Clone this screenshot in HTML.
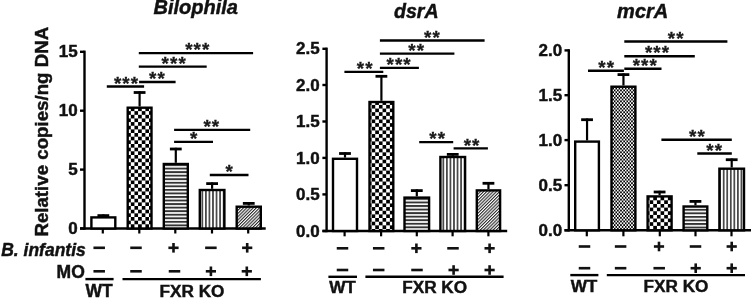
<!DOCTYPE html>
<html><head><meta charset="utf-8"><style>
html,body{margin:0;padding:0;background:#fff;}
svg{display:block;will-change:transform;}
text{font-family:"Liberation Sans",sans-serif;fill:#111;stroke:#111;stroke-width:0.45px;}
text.st{stroke:#1a1a1a;stroke-width:0.3px;fill:#1a1a1a;}

</style></head><body>
<svg width="751" height="298" viewBox="0 0 751 298">
<defs>
<pattern id="ck" patternUnits="userSpaceOnUse" width="7.3" height="7.3"><rect width="7.3" height="7.3" fill="#fff"/><rect width="3.65" height="3.65" fill="#000"/><rect x="3.65" y="3.65" width="3.65" height="3.65" fill="#000"/></pattern>
<pattern id="fck" patternUnits="userSpaceOnUse" x="612.35" y="124.09" width="3.14" height="3.64"><rect width="3.14" height="3.64" fill="#fff"/><rect width="1.57" height="1.82" fill="#000"/><rect x="1.57" y="1.82" width="1.57" height="1.82" fill="#000"/></pattern>
<pattern id="hl" patternUnits="userSpaceOnUse" width="10" height="3.5"><rect width="10" height="3.5" fill="#fff"/><rect y="0" width="10" height="1.9" fill="#222"/></pattern>
<pattern id="vl" patternUnits="userSpaceOnUse" width="3.5" height="10"><rect width="3.5" height="10" fill="#fff"/><rect x="0" width="1.7" height="10" fill="#222"/></pattern>
<pattern id="dg" patternUnits="userSpaceOnUse" width="2.26" height="3" patternTransform="rotate(45)"><rect width="2.26" height="3" fill="#fff"/><rect width="1.1" height="3" fill="#2a2a2a"/></pattern>
<pattern id="ck1" patternUnits="userSpaceOnUse" x="130.80" y="180.50" width="7.3" height="7.3"><rect width="7.3" height="7.3" fill="#fff"/><rect width="3.65" height="3.65" fill="#000"/><rect x="3.65" y="3.65" width="3.65" height="3.65" fill="#000"/></pattern>
<pattern id="hl1" patternUnits="userSpaceOnUse" y="164.08" width="10" height="3.55"><rect width="10" height="3.55" fill="#fff"/><rect width="10" height="1.9" fill="#333"/></pattern>
<pattern id="vl1" patternUnits="userSpaceOnUse" x="201.45" width="3.55" height="10"><rect width="3.55" height="10" fill="#fff"/><rect width="1.75" height="10" fill="#484848"/></pattern>
<pattern id="ck2" patternUnits="userSpaceOnUse" x="371.60" y="104.90" width="7.3" height="7.3"><rect width="7.3" height="7.3" fill="#fff"/><rect width="3.65" height="3.65" fill="#000"/><rect x="3.65" y="3.65" width="3.65" height="3.65" fill="#000"/></pattern>
<pattern id="hl2" patternUnits="userSpaceOnUse" y="197.97" width="10" height="3.55"><rect width="10" height="3.55" fill="#fff"/><rect width="10" height="1.9" fill="#333"/></pattern>
<pattern id="vl2" patternUnits="userSpaceOnUse" x="442.45" width="3.55" height="10"><rect width="3.55" height="10" fill="#fff"/><rect width="1.75" height="10" fill="#484848"/></pattern>
<pattern id="ck3" patternUnits="userSpaceOnUse" x="649.60" y="200.30" width="7.3" height="7.3"><rect width="7.3" height="7.3" fill="#fff"/><rect width="3.65" height="3.65" fill="#000"/><rect x="3.65" y="3.65" width="3.65" height="3.65" fill="#000"/></pattern>
<pattern id="hl3" patternUnits="userSpaceOnUse" y="205.28" width="10" height="3.55"><rect width="10" height="3.55" fill="#fff"/><rect width="10" height="1.9" fill="#333"/></pattern>
<pattern id="vl3" patternUnits="userSpaceOnUse" x="719.25" width="3.55" height="10"><rect width="3.55" height="10" fill="#fff"/><rect width="1.75" height="10" fill="#484848"/></pattern>
</defs>
<rect width="751" height="298" fill="#fff"/>
<text x="153.50" y="14.30" font-size="20" text-anchor="start" font-weight="bold" font-style="italic" >Bilophila</text>
<text transform="translate(48.3,236.6) rotate(-90)" font-size="18.7" font-weight="bold">Relative copies/ng DNA</text>
<line x1="84.50" y1="50.60" x2="84.50" y2="229.70" stroke="#000" stroke-width="2.4"/>
<line x1="80.00" y1="228.50" x2="265.70" y2="228.50" stroke="#000" stroke-width="2.4"/>
<line x1="80.00" y1="51.80" x2="84.50" y2="51.80" stroke="#000" stroke-width="2.4"/>
<text x="77.60" y="57.00" font-size="17" text-anchor="end" font-weight="bold" font-style="normal" >15</text>
<line x1="80.00" y1="110.70" x2="84.50" y2="110.70" stroke="#000" stroke-width="2.4"/>
<text x="77.60" y="115.90" font-size="17" text-anchor="end" font-weight="bold" font-style="normal" >10</text>
<line x1="80.00" y1="169.60" x2="84.50" y2="169.60" stroke="#000" stroke-width="2.4"/>
<text x="77.60" y="174.80" font-size="17" text-anchor="end" font-weight="bold" font-style="normal" >5</text>
<line x1="80.00" y1="228.50" x2="84.50" y2="228.50" stroke="#000" stroke-width="2.4"/>
<text x="77.60" y="233.70" font-size="17" text-anchor="end" font-weight="bold" font-style="normal" >0</text>
<line x1="102.80" y1="228.50" x2="102.80" y2="233.50" stroke="#000" stroke-width="2.2"/>
<line x1="139.30" y1="228.50" x2="139.30" y2="233.50" stroke="#000" stroke-width="2.2"/>
<line x1="175.30" y1="228.50" x2="175.30" y2="233.50" stroke="#000" stroke-width="2.2"/>
<line x1="212.00" y1="228.50" x2="212.00" y2="233.50" stroke="#000" stroke-width="2.2"/>
<line x1="248.20" y1="228.50" x2="248.20" y2="233.50" stroke="#000" stroke-width="2.2"/>
<line x1="103.35" y1="216.20" x2="103.35" y2="214.40" stroke="#000" stroke-width="2.2"/>
<line x1="97.45" y1="215.60" x2="109.25" y2="215.60" stroke="#000" stroke-width="2.8"/>
<rect x="91.40" y="217.40" width="23.90" height="11.10" fill="#fff" stroke="#000" stroke-width="2.4"/>
<line x1="139.60" y1="106.50" x2="139.60" y2="91.30" stroke="#000" stroke-width="2.2"/>
<line x1="133.70" y1="92.50" x2="145.50" y2="92.50" stroke="#000" stroke-width="2.8"/>
<rect x="127.70" y="107.70" width="23.80" height="120.80" fill="url(#ck1)" stroke="#000" stroke-width="2.4"/>
<line x1="175.80" y1="162.80" x2="175.80" y2="147.80" stroke="#000" stroke-width="2.2"/>
<line x1="169.90" y1="149.00" x2="181.70" y2="149.00" stroke="#000" stroke-width="2.8"/>
<rect x="163.80" y="164.00" width="24.00" height="64.50" fill="url(#hl1)" stroke="#000" stroke-width="2.4"/>
<line x1="212.10" y1="188.80" x2="212.10" y2="182.40" stroke="#000" stroke-width="2.2"/>
<line x1="206.20" y1="183.60" x2="218.00" y2="183.60" stroke="#000" stroke-width="2.8"/>
<rect x="199.80" y="190.00" width="24.60" height="38.50" fill="url(#vl1)" stroke="#000" stroke-width="2.4"/>
<line x1="248.75" y1="205.50" x2="248.75" y2="202.20" stroke="#000" stroke-width="2.2"/>
<line x1="242.85" y1="203.40" x2="254.65" y2="203.40" stroke="#000" stroke-width="2.8"/>
<rect x="236.70" y="206.70" width="24.10" height="21.80" fill="url(#dg)" stroke="#000" stroke-width="2.4"/>
<line x1="138.80" y1="53.10" x2="253.10" y2="53.10" stroke="#000" stroke-width="2.4"/>
<text x="197.75" y="56.34" font-size="18.8" text-anchor="middle" font-weight="bold" letter-spacing="1.1" class="st">***</text>
<line x1="138.80" y1="66.60" x2="206.70" y2="66.60" stroke="#000" stroke-width="2.4"/>
<text x="174.20" y="69.84" font-size="18.8" text-anchor="middle" font-weight="bold" letter-spacing="1.1" class="st">***</text>
<line x1="139.10" y1="82.00" x2="175.60" y2="82.00" stroke="#000" stroke-width="2.4"/>
<text x="157.50" y="85.24" font-size="18.8" text-anchor="middle" font-weight="bold" letter-spacing="1.1" class="st">**</text>
<line x1="106.80" y1="86.50" x2="144.10" y2="86.50" stroke="#000" stroke-width="2.4"/>
<text x="126.50" y="89.74" font-size="18.8" text-anchor="middle" font-weight="bold" letter-spacing="1.1" class="st">***</text>
<line x1="174.10" y1="129.90" x2="250.20" y2="129.90" stroke="#000" stroke-width="2.4"/>
<text x="211.85" y="133.14" font-size="18.8" text-anchor="middle" font-weight="bold" letter-spacing="1.1" class="st">**</text>
<line x1="174.10" y1="141.90" x2="213.00" y2="141.90" stroke="#000" stroke-width="2.4"/>
<text x="194.20" y="145.14" font-size="18.8" text-anchor="middle" font-weight="bold" letter-spacing="1.1" class="st">*</text>
<line x1="209.80" y1="175.00" x2="248.50" y2="175.00" stroke="#000" stroke-width="2.4"/>
<text x="229.80" y="178.24" font-size="18.8" text-anchor="middle" font-weight="bold" letter-spacing="1.1" class="st">*</text>
<text x="1.20" y="256.00" font-size="17.7" text-anchor="start" font-weight="bold" font-style="italic" textLength="84.6" lengthAdjust="spacingAndGlyphs">B. infantis</text>
<text x="84.80" y="277.60" font-size="17.5" text-anchor="end" font-weight="bold" font-style="normal" >MO</text>
<rect x="93.45" y="246.50" width="11.5" height="2.6" fill="#111"/>
<rect x="130.25" y="246.50" width="11.5" height="2.6" fill="#111"/>
<rect x="168.40" y="246.50" width="10.2" height="2.6" fill="#111"/>
<rect x="172.20" y="243.00" width="2.6" height="9.6" fill="#111"/>
<rect x="205.15" y="246.50" width="11.5" height="2.6" fill="#111"/>
<rect x="242.10" y="246.50" width="10.2" height="2.6" fill="#111"/>
<rect x="245.90" y="243.00" width="2.6" height="9.6" fill="#111"/>
<rect x="93.45" y="270.00" width="11.5" height="2.6" fill="#111"/>
<rect x="130.25" y="270.00" width="11.5" height="2.6" fill="#111"/>
<rect x="168.75" y="270.00" width="11.5" height="2.6" fill="#111"/>
<rect x="205.80" y="270.00" width="10.2" height="2.6" fill="#111"/>
<rect x="209.60" y="266.50" width="2.6" height="9.6" fill="#111"/>
<rect x="241.70" y="270.00" width="10.2" height="2.6" fill="#111"/>
<rect x="245.50" y="266.50" width="2.6" height="9.6" fill="#111"/>
<line x1="85.40" y1="279.10" x2="113.60" y2="279.10" stroke="#000" stroke-width="2.4"/>
<line x1="122.50" y1="279.10" x2="260.90" y2="279.10" stroke="#000" stroke-width="2.4"/>
<text x="99.00" y="297.20" font-size="17.5" text-anchor="middle" font-weight="bold" font-style="normal" >WT</text>
<text x="192.00" y="297.20" font-size="17.2" text-anchor="middle" font-weight="bold" font-style="normal" >FXR KO</text>
<text x="394.00" y="18.00" font-size="19.6" text-anchor="start" font-weight="bold" font-style="italic" >dsrA</text>
<line x1="326.60" y1="47.60" x2="326.60" y2="232.20" stroke="#000" stroke-width="2.4"/>
<line x1="322.40" y1="231.00" x2="507.20" y2="231.00" stroke="#000" stroke-width="2.4"/>
<line x1="322.40" y1="48.80" x2="326.60" y2="48.80" stroke="#000" stroke-width="2.4"/>
<text x="319.60" y="54.40" font-size="17" text-anchor="end" font-weight="bold" font-style="normal" >2.5</text>
<line x1="322.40" y1="85.00" x2="326.60" y2="85.00" stroke="#000" stroke-width="2.4"/>
<text x="319.60" y="90.60" font-size="17" text-anchor="end" font-weight="bold" font-style="normal" >2.0</text>
<line x1="322.40" y1="121.50" x2="326.60" y2="121.50" stroke="#000" stroke-width="2.4"/>
<text x="319.60" y="127.10" font-size="17" text-anchor="end" font-weight="bold" font-style="normal" >1.5</text>
<line x1="322.40" y1="157.90" x2="326.60" y2="157.90" stroke="#000" stroke-width="2.4"/>
<text x="319.60" y="163.50" font-size="17" text-anchor="end" font-weight="bold" font-style="normal" >1.0</text>
<line x1="322.40" y1="194.40" x2="326.60" y2="194.40" stroke="#000" stroke-width="2.4"/>
<text x="319.60" y="200.00" font-size="17" text-anchor="end" font-weight="bold" font-style="normal" >0.5</text>
<line x1="322.40" y1="231.00" x2="326.60" y2="231.00" stroke="#000" stroke-width="2.4"/>
<text x="319.60" y="236.60" font-size="17" text-anchor="end" font-weight="bold" font-style="normal" >0.0</text>
<line x1="344.60" y1="231.00" x2="344.60" y2="236.30" stroke="#000" stroke-width="2.2"/>
<line x1="381.10" y1="231.00" x2="381.10" y2="236.30" stroke="#000" stroke-width="2.2"/>
<line x1="416.80" y1="231.00" x2="416.80" y2="236.30" stroke="#000" stroke-width="2.2"/>
<line x1="452.60" y1="231.00" x2="452.60" y2="236.30" stroke="#000" stroke-width="2.2"/>
<line x1="488.40" y1="231.00" x2="488.40" y2="236.30" stroke="#000" stroke-width="2.2"/>
<line x1="345.00" y1="157.60" x2="345.00" y2="152.30" stroke="#000" stroke-width="2.2"/>
<line x1="339.10" y1="153.50" x2="350.90" y2="153.50" stroke="#000" stroke-width="2.8"/>
<rect x="333.00" y="158.80" width="24.00" height="72.20" fill="#fff" stroke="#000" stroke-width="2.4"/>
<line x1="381.40" y1="100.80" x2="381.40" y2="75.10" stroke="#000" stroke-width="2.2"/>
<line x1="375.50" y1="76.30" x2="387.30" y2="76.30" stroke="#000" stroke-width="2.8"/>
<rect x="369.50" y="102.00" width="23.80" height="129.00" fill="url(#ck2)" stroke="#000" stroke-width="2.4"/>
<line x1="416.80" y1="196.40" x2="416.80" y2="189.40" stroke="#000" stroke-width="2.2"/>
<line x1="410.90" y1="190.60" x2="422.70" y2="190.60" stroke="#000" stroke-width="2.8"/>
<rect x="404.50" y="197.60" width="24.60" height="33.40" fill="url(#hl2)" stroke="#000" stroke-width="2.4"/>
<line x1="452.75" y1="155.80" x2="452.75" y2="153.20" stroke="#000" stroke-width="2.2"/>
<line x1="446.85" y1="154.40" x2="458.65" y2="154.40" stroke="#000" stroke-width="2.8"/>
<rect x="440.40" y="157.00" width="24.70" height="74.00" fill="url(#vl2)" stroke="#000" stroke-width="2.4"/>
<line x1="488.45" y1="189.20" x2="488.45" y2="182.10" stroke="#000" stroke-width="2.2"/>
<line x1="482.55" y1="183.30" x2="494.35" y2="183.30" stroke="#000" stroke-width="2.8"/>
<rect x="476.80" y="190.40" width="23.30" height="40.60" fill="url(#dg)" stroke="#000" stroke-width="2.4"/>
<line x1="379.90" y1="40.50" x2="484.60" y2="40.50" stroke="#000" stroke-width="2.4"/>
<text x="432.45" y="43.74" font-size="18.8" text-anchor="middle" font-weight="bold" letter-spacing="1.1" class="st">**</text>
<line x1="379.90" y1="53.60" x2="454.40" y2="53.60" stroke="#000" stroke-width="2.4"/>
<text x="416.75" y="56.84" font-size="18.8" text-anchor="middle" font-weight="bold" letter-spacing="1.1" class="st">**</text>
<line x1="379.90" y1="67.90" x2="418.90" y2="67.90" stroke="#000" stroke-width="2.4"/>
<text x="399.10" y="71.14" font-size="18.8" text-anchor="middle" font-weight="bold" letter-spacing="1.1" class="st">***</text>
<line x1="344.40" y1="71.90" x2="383.30" y2="71.90" stroke="#000" stroke-width="2.4"/>
<text x="365.15" y="75.14" font-size="18.8" text-anchor="middle" font-weight="bold" letter-spacing="1.1" class="st">**</text>
<line x1="419.20" y1="142.10" x2="453.20" y2="142.10" stroke="#000" stroke-width="2.4"/>
<text x="437.70" y="145.34" font-size="18.8" text-anchor="middle" font-weight="bold" letter-spacing="1.1" class="st">**</text>
<line x1="453.60" y1="148.40" x2="487.90" y2="148.40" stroke="#000" stroke-width="2.4"/>
<text x="472.05" y="151.64" font-size="18.8" text-anchor="middle" font-weight="bold" letter-spacing="1.1" class="st">**</text>
<rect x="336.75" y="247.00" width="11.5" height="2.6" fill="#111"/>
<rect x="372.95" y="247.00" width="11.5" height="2.6" fill="#111"/>
<rect x="411.30" y="247.00" width="10.2" height="2.6" fill="#111"/>
<rect x="415.10" y="243.50" width="2.6" height="9.6" fill="#111"/>
<rect x="447.25" y="247.00" width="11.5" height="2.6" fill="#111"/>
<rect x="484.50" y="247.00" width="10.2" height="2.6" fill="#111"/>
<rect x="488.30" y="243.50" width="2.6" height="9.6" fill="#111"/>
<rect x="336.75" y="268.70" width="11.5" height="2.6" fill="#111"/>
<rect x="372.95" y="268.70" width="11.5" height="2.6" fill="#111"/>
<rect x="411.25" y="268.70" width="11.5" height="2.6" fill="#111"/>
<rect x="448.50" y="268.70" width="10.2" height="2.6" fill="#111"/>
<rect x="452.30" y="265.20" width="2.6" height="9.6" fill="#111"/>
<rect x="484.50" y="268.70" width="10.2" height="2.6" fill="#111"/>
<rect x="488.30" y="265.20" width="2.6" height="9.6" fill="#111"/>
<line x1="328.40" y1="276.80" x2="357.00" y2="276.80" stroke="#000" stroke-width="2.4"/>
<line x1="365.40" y1="276.80" x2="503.60" y2="276.80" stroke="#000" stroke-width="2.4"/>
<text x="342.50" y="292.80" font-size="17.2" text-anchor="middle" font-weight="bold" font-style="normal" >WT</text>
<text x="434.70" y="292.80" font-size="17.2" text-anchor="middle" font-weight="bold" font-style="normal" >FXR KO</text>
<text x="617.10" y="18.00" font-size="20" text-anchor="start" font-weight="bold" font-style="italic" >mcrA</text>
<line x1="568.80" y1="49.20" x2="568.80" y2="231.50" stroke="#000" stroke-width="2.4"/>
<line x1="564.50" y1="230.30" x2="751.00" y2="230.30" stroke="#000" stroke-width="2.4"/>
<line x1="564.50" y1="50.40" x2="568.80" y2="50.40" stroke="#000" stroke-width="2.4"/>
<text x="562.20" y="56.00" font-size="17" text-anchor="end" font-weight="bold" font-style="normal" >2.0</text>
<line x1="564.50" y1="95.20" x2="568.80" y2="95.20" stroke="#000" stroke-width="2.4"/>
<text x="562.20" y="100.80" font-size="17" text-anchor="end" font-weight="bold" font-style="normal" >1.5</text>
<line x1="564.50" y1="140.10" x2="568.80" y2="140.10" stroke="#000" stroke-width="2.4"/>
<text x="562.20" y="145.70" font-size="17" text-anchor="end" font-weight="bold" font-style="normal" >1.0</text>
<line x1="564.50" y1="185.20" x2="568.80" y2="185.20" stroke="#000" stroke-width="2.4"/>
<text x="562.20" y="190.80" font-size="17" text-anchor="end" font-weight="bold" font-style="normal" >0.5</text>
<line x1="564.50" y1="230.30" x2="568.80" y2="230.30" stroke="#000" stroke-width="2.4"/>
<text x="562.20" y="235.90" font-size="17" text-anchor="end" font-weight="bold" font-style="normal" >0.0</text>
<line x1="586.80" y1="230.30" x2="586.80" y2="236.30" stroke="#000" stroke-width="2.2"/>
<line x1="623.40" y1="230.30" x2="623.40" y2="236.30" stroke="#000" stroke-width="2.2"/>
<line x1="659.80" y1="230.30" x2="659.80" y2="236.30" stroke="#000" stroke-width="2.2"/>
<line x1="695.50" y1="230.30" x2="695.50" y2="236.30" stroke="#000" stroke-width="2.2"/>
<line x1="731.50" y1="230.30" x2="731.50" y2="236.30" stroke="#000" stroke-width="2.2"/>
<line x1="587.05" y1="140.40" x2="587.05" y2="118.50" stroke="#000" stroke-width="2.2"/>
<line x1="581.15" y1="119.70" x2="592.95" y2="119.70" stroke="#000" stroke-width="2.8"/>
<rect x="575.20" y="141.60" width="23.70" height="88.70" fill="#fff" stroke="#000" stroke-width="2.4"/>
<line x1="623.45" y1="85.50" x2="623.45" y2="73.40" stroke="#000" stroke-width="2.2"/>
<line x1="617.55" y1="74.60" x2="629.35" y2="74.60" stroke="#000" stroke-width="2.8"/>
<rect x="611.50" y="86.70" width="23.90" height="143.60" fill="url(#fck)" stroke="#000" stroke-width="2.4"/>
<line x1="659.60" y1="195.20" x2="659.60" y2="190.80" stroke="#000" stroke-width="2.2"/>
<line x1="653.70" y1="192.00" x2="665.50" y2="192.00" stroke="#000" stroke-width="2.8"/>
<rect x="647.60" y="196.40" width="24.00" height="33.90" fill="url(#ck3)" stroke="#000" stroke-width="2.4"/>
<line x1="695.45" y1="205.30" x2="695.45" y2="200.20" stroke="#000" stroke-width="2.2"/>
<line x1="689.55" y1="201.40" x2="701.35" y2="201.40" stroke="#000" stroke-width="2.8"/>
<rect x="683.60" y="206.50" width="23.70" height="23.80" fill="url(#hl3)" stroke="#000" stroke-width="2.4"/>
<line x1="731.70" y1="167.50" x2="731.70" y2="158.50" stroke="#000" stroke-width="2.2"/>
<line x1="725.80" y1="159.70" x2="737.60" y2="159.70" stroke="#000" stroke-width="2.8"/>
<rect x="719.40" y="168.70" width="24.60" height="61.60" fill="url(#vl3)" stroke="#000" stroke-width="2.4"/>
<line x1="624.30" y1="41.50" x2="727.40" y2="41.50" stroke="#000" stroke-width="2.4"/>
<text x="676.15" y="44.74" font-size="18.8" text-anchor="middle" font-weight="bold" letter-spacing="1.1" class="st">**</text>
<line x1="624.30" y1="56.20" x2="694.80" y2="56.20" stroke="#000" stroke-width="2.4"/>
<text x="657.50" y="59.44" font-size="18.8" text-anchor="middle" font-weight="bold" letter-spacing="1.1" class="st">***</text>
<line x1="624.30" y1="68.70" x2="661.50" y2="68.70" stroke="#000" stroke-width="2.4"/>
<text x="645.25" y="71.94" font-size="18.8" text-anchor="middle" font-weight="bold" letter-spacing="1.1" class="st">***</text>
<line x1="588.00" y1="70.70" x2="623.90" y2="70.70" stroke="#000" stroke-width="2.4"/>
<text x="606.65" y="73.94" font-size="18.8" text-anchor="middle" font-weight="bold" letter-spacing="1.1" class="st">**</text>
<line x1="661.40" y1="139.80" x2="731.80" y2="139.80" stroke="#000" stroke-width="2.4"/>
<text x="697.45" y="143.04" font-size="18.8" text-anchor="middle" font-weight="bold" letter-spacing="1.1" class="st">**</text>
<line x1="697.30" y1="153.50" x2="731.80" y2="153.50" stroke="#000" stroke-width="2.4"/>
<text x="714.65" y="156.74" font-size="18.8" text-anchor="middle" font-weight="bold" letter-spacing="1.1" class="st">**</text>
<rect x="578.75" y="245.20" width="11.5" height="2.6" fill="#111"/>
<rect x="614.85" y="245.20" width="11.5" height="2.6" fill="#111"/>
<rect x="653.90" y="245.20" width="10.2" height="2.6" fill="#111"/>
<rect x="657.70" y="241.70" width="2.6" height="9.6" fill="#111"/>
<rect x="689.75" y="245.20" width="11.5" height="2.6" fill="#111"/>
<rect x="726.60" y="245.20" width="10.2" height="2.6" fill="#111"/>
<rect x="730.40" y="241.70" width="2.6" height="9.6" fill="#111"/>
<rect x="578.75" y="266.90" width="11.5" height="2.6" fill="#111"/>
<rect x="614.85" y="266.90" width="11.5" height="2.6" fill="#111"/>
<rect x="653.45" y="266.90" width="11.5" height="2.6" fill="#111"/>
<rect x="690.60" y="266.90" width="10.2" height="2.6" fill="#111"/>
<rect x="694.40" y="263.40" width="2.6" height="9.6" fill="#111"/>
<rect x="726.60" y="266.90" width="10.2" height="2.6" fill="#111"/>
<rect x="730.40" y="263.40" width="2.6" height="9.6" fill="#111"/>
<line x1="570.30" y1="275.10" x2="598.40" y2="275.10" stroke="#000" stroke-width="2.4"/>
<line x1="606.80" y1="275.10" x2="745.00" y2="275.10" stroke="#000" stroke-width="2.4"/>
<text x="584.00" y="292.00" font-size="17.2" text-anchor="middle" font-weight="bold" font-style="normal" >WT</text>
<text x="676.00" y="292.00" font-size="17.2" text-anchor="middle" font-weight="bold" font-style="normal" >FXR KO</text>
</svg>
</body></html>
